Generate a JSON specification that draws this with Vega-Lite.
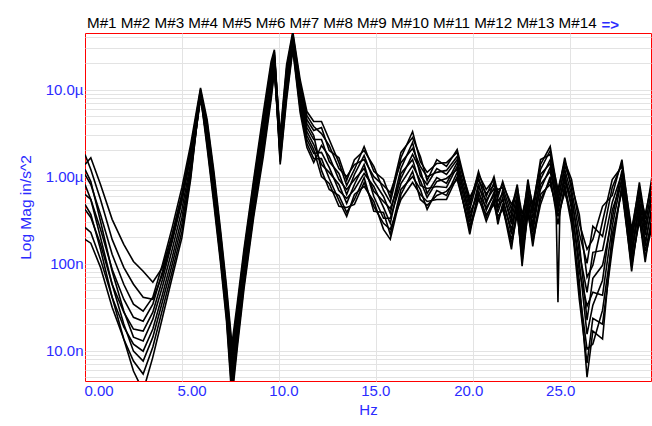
{
"$schema": "https://vega.github.io/schema/vega-lite/v6.json",
"width": 566,
"height": 348,
"autosize": {"type": "none"},
"padding": {"left": 85, "top": 33, "right": 1, "bottom": 45},
"background": "white",
"view": {"stroke": "#ff0000", "strokeWidth": 1},
"config": {
  "view": {"stroke": "#ff0000", "strokeWidth": 1},
  "font": "Liberation Sans"
},
"title": {"text": "M#1 M#2 M#3 M#4 M#5 M#6 M#7 M#8 M#9 M#10 M#11 M#12 M#13 M#14", "anchor": "start", "frame": "group", "font": "Liberation Sans", "fontSize": 15.2, "fontWeight": "normal", "color": "#000000", "offset": 3, "dx": 2, "dy": 17},
"layer": [
{
"data": {"values": [
{"c":1,"f":0,"v":1.38e-6},{"c":1,"f":0.3,"v":1.65e-6},{"c":1,"f":0.8,"v":8.13e-7},{"c":1,"f":1.4,"v":3.23e-7},{"c":1,"f":2,"v":1.67e-7},{"c":1,"f":2.5,"v":1.06e-7},{"c":1,"f":3,"v":8.17e-8},{"c":1,"f":3.5,"v":6.11e-8},{"c":1,"f":4,"v":9.07e-8},{"c":1,"f":4.5,"v":2.17e-7},{"c":1,"f":5,"v":6.24e-7},{"c":1,"f":5.45,"v":2.05e-6},{"c":1,"f":5.96,"v":1.0e-5},{"c":1,"f":6.3,"v":3.57e-6},{"c":1,"f":6.65,"v":8.57e-7},{"c":1,"f":7,"v":1.76e-7},{"c":1,"f":7.3,"v":4.0e-8},{"c":1,"f":7.58,"v":7.39e-9},{"c":1,"f":7.85,"v":2.3e-8},{"c":1,"f":8.2,"v":1.04e-7},{"c":1,"f":8.7,"v":6.58e-7},{"c":1,"f":9.2,"v":3.67e-6},{"c":1,"f":9.6,"v":1.49e-5},{"c":1,"f":9.77,"v":2.39e-5},{"c":1,"f":10.07,"v":3.05e-6},{"c":1,"f":10.4,"v":1.94e-5},{"c":1,"f":10.72,"v":4.65e-5},{"c":1,"f":11.1,"v":1.3e-5},{"c":1,"f":11.45,"v":5.6e-6},{"c":1,"f":11.8,"v":4.3e-6},{"c":1,"f":12.2,"v":4.3e-6},{"c":1,"f":12.6,"v":2.67e-6},{"c":1,"f":13.1,"v":1.45e-6},{"c":1,"f":13.5,"v":7.92e-7},{"c":1,"f":13.9,"v":1.21e-6},{"c":1,"f":14.4,"v":2.22e-6},{"c":1,"f":14.9,"v":1.15e-6},{"c":1,"f":15.4,"v":9.28e-7},{"c":1,"f":15.75,"v":5.77e-7},{"c":1,"f":16.3,"v":1.9e-6},{"c":1,"f":16.9,"v":2.81e-6},{"c":1,"f":17.3,"v":1.71e-6},{"c":1,"f":17.65,"v":9.04e-7},{"c":1,"f":18.15,"v":1.57e-6},{"c":1,"f":18.65,"v":1.31e-6},{"c":1,"f":19.2,"v":2.05e-6},{"c":1,"f":19.85,"v":5.19e-7},{"c":1,"f":20.3,"v":1.06e-6},{"c":1,"f":20.7,"v":7.13e-7},{"c":1,"f":21.1,"v":9.28e-7},{"c":1,"f":21.3,"v":5.77e-7},{"c":1,"f":21.55,"v":8.81e-7},{"c":1,"f":22,"v":4.2e-7},{"c":1,"f":22.3,"v":8.13e-7},{"c":1,"f":22.55,"v":2.69e-7},{"c":1,"f":22.85,"v":9.28e-7},{"c":1,"f":23.1,"v":4.2e-7},{"c":1,"f":23.5,"v":1.57e-6},{"c":1,"f":24,"v":1.8e-6},{"c":1,"f":24.4,"v":7.13e-7},{"c":1,"f":24.75,"v":1.49e-6},{"c":1,"f":25.1,"v":9.28e-7},{"c":1,"f":25.5,"v":2.91e-7},{"c":1,"f":25.9,"v":1.46e-7},{"c":1,"f":26.2,"v":1.9e-7},{"c":1,"f":26.7,"v":4.56e-7},{"c":1,"f":27.2,"v":6.08e-7},{"c":1,"f":27.7,"v":1.57e-6},{"c":1,"f":28.2,"v":2.17e-7},{"c":1,"f":28.6,"v":8.57e-7},{"c":1,"f":28.9,"v":3.23e-7},{"c":1,"f":29.25,"v":1.0e-6},
{"c":2,"f":0,"v":1.8e-6},{"c":2,"f":0.3,"v":1.21e-6},{"c":2,"f":0.8,"v":5.47e-7},{"c":2,"f":1.4,"v":1.9e-7},{"c":2,"f":2,"v":9.07e-8},{"c":2,"f":2.5,"v":5.8e-8},{"c":2,"f":3,"v":4.11e-8},{"c":2,"f":3.5,"v":3.9e-8},{"c":2,"f":4,"v":7.55e-8},{"c":2,"f":4.5,"v":1.9e-7},{"c":2,"f":5,"v":5.47e-7},{"c":2,"f":5.45,"v":1.8e-6},{"c":2,"f":5.96,"v":9.49e-6},{"c":2,"f":6.3,"v":4.18e-6},{"c":2,"f":6.65,"v":1.03e-6},{"c":2,"f":7,"v":2.11e-7},{"c":2,"f":7.3,"v":4.95e-8},{"c":2,"f":7.58,"v":1.01e-8},{"c":2,"f":7.85,"v":3.0e-8},{"c":2,"f":8.2,"v":1.31e-7},{"c":2,"f":8.7,"v":8.35e-7},{"c":2,"f":9.2,"v":4.77e-6},{"c":2,"f":9.6,"v":1.89e-5},{"c":2,"f":9.77,"v":2.73e-5},{"c":2,"f":10.07,"v":2.16e-6},{"c":2,"f":10.4,"v":1.27e-5},{"c":2,"f":10.72,"v":3.75e-5},{"c":2,"f":11.1,"v":8.77e-6},{"c":2,"f":11.45,"v":3.67e-6},{"c":2,"f":11.8,"v":2.67e-6},{"c":2,"f":12.2,"v":2.67e-6},{"c":2,"f":12.6,"v":1.49e-6},{"c":2,"f":13.1,"v":1.09e-6},{"c":2,"f":13.5,"v":6.24e-7},{"c":2,"f":13.9,"v":1.06e-6},{"c":2,"f":14.4,"v":1.75e-6},{"c":2,"f":14.9,"v":8.81e-7},{"c":2,"f":15.4,"v":5.92e-7},{"c":2,"f":15.75,"v":3.78e-7},{"c":2,"f":16.3,"v":1.24e-6},{"c":2,"f":16.9,"v":2.47e-6},{"c":2,"f":17.3,"v":1.03e-6},{"c":2,"f":17.65,"v":8.13e-7},{"c":2,"f":18.15,"v":1.24e-6},{"c":2,"f":18.65,"v":1.06e-6},{"c":2,"f":19.2,"v":1.57e-6},{"c":2,"f":19.85,"v":4.2e-7},{"c":2,"f":20.3,"v":9.78e-7},{"c":2,"f":20.7,"v":4.93e-7},{"c":2,"f":21.1,"v":8.57e-7},{"c":2,"f":21.3,"v":5.19e-7},{"c":2,"f":21.55,"v":6.41e-7},{"c":2,"f":22,"v":3.23e-7},{"c":2,"f":22.3,"v":6.24e-7},{"c":2,"f":22.55,"v":2.0e-7},{"c":2,"f":22.85,"v":7.52e-7},{"c":2,"f":23.1,"v":3.32e-7},{"c":2,"f":23.5,"v":9.28e-7},{"c":2,"f":24,"v":1.57e-6},{"c":2,"f":24.4,"v":5.77e-7},{"c":2,"f":24.75,"v":1.21e-6},{"c":2,"f":25.1,"v":6.24e-7},{"c":2,"f":25.5,"v":1.35e-7},{"c":2,"f":25.9,"v":4.69e-8},{"c":2,"f":26.2,"v":1.35e-7},{"c":2,"f":26.7,"v":1.42e-7},{"c":2,"f":27.2,"v":5.06e-7},{"c":2,"f":27.7,"v":1.09e-6},{"c":2,"f":28.2,"v":1.72e-7},{"c":2,"f":28.6,"v":6.77e-7},{"c":2,"f":28.9,"v":2.42e-7},{"c":2,"f":29.25,"v":5.62e-7},
{"c":3,"f":0,"v":1.06e-6},{"c":3,"f":0.3,"v":8.13e-7},{"c":3,"f":0.8,"v":3.68e-7},{"c":3,"f":1.4,"v":1.28e-7},{"c":3,"f":2,"v":5.8e-8},{"c":3,"f":2.5,"v":3.42e-8},{"c":3,"f":3,"v":2.85e-8},{"c":3,"f":3.5,"v":4.11e-8},{"c":3,"f":4,"v":9.83e-8},{"c":3,"f":4.5,"v":2.61e-7},{"c":3,"f":5,"v":7.52e-7},{"c":3,"f":5.45,"v":2.34e-6},{"c":3,"f":5.96,"v":1.05e-5},{"c":3,"f":6.3,"v":4.53e-6},{"c":3,"f":6.65,"v":1.15e-6},{"c":3,"f":7,"v":2.35e-7},{"c":3,"f":7.3,"v":5.5e-8},{"c":3,"f":7.58,"v":1.19e-8},{"c":3,"f":7.85,"v":3.42e-8},{"c":3,"f":8.2,"v":1.46e-7},{"c":3,"f":8.7,"v":9.28e-7},{"c":3,"f":9.2,"v":5.45e-6},{"c":3,"f":9.6,"v":2.1e-5},{"c":3,"f":9.77,"v":2.88e-5},{"c":3,"f":10.07,"v":2.53e-6},{"c":3,"f":10.4,"v":1.57e-5},{"c":3,"f":10.72,"v":4.16e-5},{"c":3,"f":11.1,"v":1.08e-5},{"c":3,"f":11.45,"v":4.53e-6},{"c":3,"f":11.8,"v":3.39e-6},{"c":3,"f":12.2,"v":3.67e-6},{"c":3,"f":12.6,"v":2.0e-6},{"c":3,"f":13.1,"v":1.65e-6},{"c":3,"f":13.5,"v":9.04e-7},{"c":3,"f":13.9,"v":1.57e-6},{"c":3,"f":14.4,"v":2.0e-6},{"c":3,"f":14.9,"v":1.31e-6},{"c":3,"f":15.4,"v":6.94e-7},{"c":3,"f":15.75,"v":5.06e-7},{"c":3,"f":16.3,"v":1.65e-6},{"c":3,"f":16.9,"v":3.3e-6},{"c":3,"f":17.3,"v":1.49e-6},{"c":3,"f":17.65,"v":1.12e-6},{"c":3,"f":18.15,"v":1.42e-6},{"c":3,"f":18.65,"v":1.45e-6},{"c":3,"f":19.2,"v":1.9e-6},{"c":3,"f":19.85,"v":4.68e-7},{"c":3,"f":20.3,"v":1.15e-6},{"c":3,"f":20.7,"v":5.92e-7},{"c":3,"f":21.1,"v":1.0e-6},{"c":3,"f":21.3,"v":6.41e-7},{"c":3,"f":21.55,"v":8.13e-7},{"c":3,"f":22,"v":4.8e-7},{"c":3,"f":22.3,"v":6.77e-7},{"c":3,"f":22.55,"v":3.15e-7},{"c":3,"f":22.85,"v":8.35e-7},{"c":3,"f":23.1,"v":4.8e-7},{"c":3,"f":23.5,"v":1.38e-6},{"c":3,"f":24,"v":2.22e-6},{"c":3,"f":24.4,"v":6.41e-7},{"c":3,"f":24.75,"v":1.65e-6},{"c":3,"f":25.1,"v":7.13e-7},{"c":3,"f":25.5,"v":2.23e-7},{"c":3,"f":25.9,"v":1.01e-7},{"c":3,"f":26.2,"v":2.69e-7},{"c":3,"f":26.7,"v":2.06e-7},{"c":3,"f":27.2,"v":7.52e-7},{"c":3,"f":27.7,"v":1.42e-6},{"c":3,"f":28.2,"v":2.48e-7},{"c":3,"f":28.6,"v":7.72e-7},{"c":3,"f":28.9,"v":2.76e-7},{"c":3,"f":29.25,"v":7.52e-7},
{"c":4,"f":0,"v":6.24e-7},{"c":4,"f":0.3,"v":5.47e-7},{"c":4,"f":0.8,"v":2.48e-7},{"c":4,"f":1.4,"v":8.61e-8},{"c":4,"f":2,"v":3.9e-8},{"c":4,"f":2.5,"v":2.42e-8},{"c":4,"f":3,"v":2.18e-8},{"c":4,"f":3.5,"v":3.42e-8},{"c":4,"f":4,"v":8.17e-8},{"c":4,"f":4.5,"v":2.17e-7},{"c":4,"f":5,"v":6.24e-7},{"c":4,"f":5.45,"v":2.05e-6},{"c":4,"f":5.96,"v":8.77e-6},{"c":4,"f":6.3,"v":2.97e-6},{"c":4,"f":6.65,"v":7.13e-7},{"c":4,"f":7,"v":1.46e-7},{"c":4,"f":7.3,"v":3.33e-8},{"c":4,"f":7.58,"v":5.24e-9},{"c":4,"f":7.85,"v":1.77e-8},{"c":4,"f":8.2,"v":8.17e-8},{"c":4,"f":8.7,"v":5.33e-7},{"c":4,"f":9.2,"v":2.89e-6},{"c":4,"f":9.6,"v":1.2e-5},{"c":4,"f":9.77,"v":2.1e-5},{"c":4,"f":10.07,"v":1.65e-6},{"c":4,"f":10.4,"v":9.49e-6},{"c":4,"f":10.72,"v":3.2e-5},{"c":4,"f":11.1,"v":6.55e-6},{"c":4,"f":11.45,"v":2.67e-6},{"c":4,"f":11.8,"v":1.85e-6},{"c":4,"f":12.2,"v":1.9e-6},{"c":4,"f":12.6,"v":1.28e-6},{"c":4,"f":13.1,"v":6.94e-7},{"c":4,"f":13.5,"v":5.62e-7},{"c":4,"f":13.9,"v":7.13e-7},{"c":4,"f":14.4,"v":1.09e-6},{"c":4,"f":14.9,"v":7.72e-7},{"c":4,"f":15.4,"v":4.43e-7},{"c":4,"f":15.75,"v":2.91e-7},{"c":4,"f":16.3,"v":1.09e-6},{"c":4,"f":16.9,"v":1.57e-6},{"c":4,"f":17.3,"v":7.92e-7},{"c":4,"f":17.65,"v":7.32e-7},{"c":4,"f":18.15,"v":7.72e-7},{"c":4,"f":18.65,"v":7.52e-7},{"c":4,"f":19.2,"v":1.31e-6},{"c":4,"f":19.85,"v":3.78e-7},{"c":4,"f":20.3,"v":6.41e-7},{"c":4,"f":20.7,"v":4.43e-7},{"c":4,"f":21.1,"v":6.08e-7},{"c":4,"f":21.3,"v":4.68e-7},{"c":4,"f":21.55,"v":5.33e-7},{"c":4,"f":22,"v":2.48e-7},{"c":4,"f":22.3,"v":4.8e-7},{"c":4,"f":22.55,"v":1.72e-7},{"c":4,"f":22.85,"v":5.06e-7},{"c":4,"f":23.1,"v":2.91e-7},{"c":4,"f":23.5,"v":7.13e-7},{"c":4,"f":24,"v":1.28e-6},{"c":4,"f":24.4,"v":3.88e-7},{"c":4,"f":24.75,"v":1.09e-6},{"c":4,"f":25.1,"v":4.2e-7},{"c":4,"f":25.5,"v":1.06e-7},{"c":4,"f":25.9,"v":1.55e-8},{"c":4,"f":26.2,"v":3.33e-8},{"c":4,"f":26.7,"v":6.45e-8},{"c":4,"f":27.2,"v":4.09e-7},{"c":4,"f":27.7,"v":9.04e-7},{"c":4,"f":28.2,"v":1.18e-7},{"c":4,"f":28.6,"v":4.8e-7},{"c":4,"f":28.9,"v":1.58e-7},{"c":4,"f":29.25,"v":4.8e-7},
{"c":5,"f":0,"v":4.2e-7},{"c":5,"f":0.3,"v":3.4e-7},{"c":5,"f":0.8,"v":1.67e-7},{"c":5,"f":1.4,"v":5.8e-8},{"c":5,"f":2,"v":2.77e-8},{"c":5,"f":2.5,"v":1.77e-8},{"c":5,"f":3,"v":1.68e-8},{"c":5,"f":3.5,"v":2.77e-8},{"c":5,"f":4,"v":6.62e-8},{"c":5,"f":4.5,"v":1.8e-7},{"c":5,"f":5,"v":5.19e-7},{"c":5,"f":5.45,"v":1.71e-6},{"c":5,"f":5.96,"v":8.32e-6},{"c":5,"f":6.3,"v":3.87e-6},{"c":5,"f":6.65,"v":9.53e-7},{"c":5,"f":7,"v":1.95e-7},{"c":5,"f":7.3,"v":4.45e-8},{"c":5,"f":7.58,"v":8.66e-9},{"c":5,"f":7.85,"v":2.63e-8},{"c":5,"f":8.2,"v":1.15e-7},{"c":5,"f":8.7,"v":7.52e-7},{"c":5,"f":9.2,"v":4.18e-6},{"c":5,"f":9.6,"v":1.7e-5},{"c":5,"f":9.77,"v":2.52e-5},{"c":5,"f":10.07,"v":2.81e-6},{"c":5,"f":10.4,"v":1.75e-5},{"c":5,"f":10.72,"v":4.39e-5},{"c":5,"f":11.1,"v":1.17e-5},{"c":5,"f":11.45,"v":5.04e-6},{"c":5,"f":11.8,"v":3.77e-6},{"c":5,"f":12.2,"v":3.13e-6},{"c":5,"f":12.6,"v":2.28e-6},{"c":5,"f":13.1,"v":1.24e-6},{"c":5,"f":13.5,"v":1.0e-6},{"c":5,"f":13.9,"v":1.38e-6},{"c":5,"f":14.4,"v":1.57e-6},{"c":5,"f":14.9,"v":1.0e-6},{"c":5,"f":15.4,"v":7.92e-7},{"c":5,"f":15.75,"v":6.58e-7},{"c":5,"f":16.3,"v":1.45e-6},{"c":5,"f":16.9,"v":2.11e-6},{"c":5,"f":17.3,"v":1.31e-6},{"c":5,"f":17.65,"v":1.0e-6},{"c":5,"f":18.15,"v":1.12e-6},{"c":5,"f":18.65,"v":1.18e-6},{"c":5,"f":19.2,"v":1.71e-6},{"c":5,"f":19.85,"v":5.77e-7},{"c":5,"f":20.3,"v":9.04e-7},{"c":5,"f":20.7,"v":6.41e-7},{"c":5,"f":21.1,"v":7.92e-7},{"c":5,"f":21.3,"v":7.13e-7},{"c":5,"f":21.55,"v":7.52e-7},{"c":5,"f":22,"v":3.68e-7},{"c":5,"f":22.3,"v":7.52e-7},{"c":5,"f":22.55,"v":3.68e-7},{"c":5,"f":22.85,"v":6.77e-7},{"c":5,"f":23.1,"v":3.78e-7},{"c":5,"f":23.5,"v":1.21e-6},{"c":5,"f":24,"v":2.0e-6},{"c":5,"f":24.4,"v":5.19e-7},{"c":5,"f":24.75,"v":1.34e-6},{"c":5,"f":25.1,"v":8.13e-7},{"c":5,"f":25.5,"v":3.68e-7},{"c":5,"f":25.9,"v":6.98e-8},{"c":5,"f":26.2,"v":9.57e-8},{"c":5,"f":26.7,"v":3.07e-7},{"c":5,"f":27.2,"v":9.28e-7},{"c":5,"f":27.7,"v":1.31e-6},{"c":5,"f":28.2,"v":1.95e-7},{"c":5,"f":28.6,"v":6.08e-7},{"c":5,"f":28.9,"v":3.68e-7},{"c":5,"f":29.25,"v":8.57e-7},
{"c":6,"f":0,"v":1.21e-6},{"c":6,"f":0.3,"v":8.81e-7},{"c":6,"f":0.8,"v":3.07e-7},{"c":6,"f":1.4,"v":8.17e-8},{"c":6,"f":2,"v":2.85e-8},{"c":6,"f":2.5,"v":1.43e-8},{"c":6,"f":3,"v":1.29e-8},{"c":6,"f":3.5,"v":2.3e-8},{"c":6,"f":4,"v":5.5e-8},{"c":6,"f":4.5,"v":1.46e-7},{"c":6,"f":5,"v":4.2e-7},{"c":6,"f":5.45,"v":1.45e-6},{"c":6,"f":5.96,"v":8.09e-6},{"c":6,"f":6.3,"v":2.53e-6},{"c":6,"f":6.65,"v":5.77e-7},{"c":6,"f":7,"v":1.18e-7},{"c":6,"f":7.3,"v":2.7e-8},{"c":6,"f":7.58,"v":3.82e-9},{"c":6,"f":7.85,"v":1.36e-8},{"c":6,"f":8.2,"v":6.45e-8},{"c":6,"f":8.7,"v":4.2e-7},{"c":6,"f":9.2,"v":2.22e-6},{"c":6,"f":9.6,"v":9.49e-6},{"c":6,"f":9.77,"v":1.84e-5},{"c":6,"f":10.07,"v":1.95e-6},{"c":6,"f":10.4,"v":1.17e-5},{"c":6,"f":10.72,"v":3.56e-5},{"c":6,"f":11.1,"v":8.09e-6},{"c":6,"f":11.45,"v":3.3e-6},{"c":6,"f":11.8,"v":2.34e-6},{"c":6,"f":12.2,"v":1.38e-6},{"c":6,"f":12.6,"v":1.12e-6},{"c":6,"f":13.1,"v":8.13e-7},{"c":6,"f":13.5,"v":4.93e-7},{"c":6,"f":13.9,"v":8.13e-7},{"c":6,"f":14.4,"v":1.38e-6},{"c":6,"f":14.9,"v":5.92e-7},{"c":6,"f":15.4,"v":3.32e-7},{"c":6,"f":15.75,"v":3.32e-7},{"c":6,"f":16.3,"v":8.35e-7},{"c":6,"f":16.9,"v":1.34e-6},{"c":6,"f":17.3,"v":9.04e-7},{"c":6,"f":17.65,"v":5.77e-7},{"c":6,"f":18.15,"v":8.81e-7},{"c":6,"f":18.65,"v":9.53e-7},{"c":6,"f":19.2,"v":1.21e-6},{"c":6,"f":19.85,"v":2.98e-7},{"c":6,"f":20.3,"v":8.35e-7},{"c":6,"f":20.7,"v":4.09e-7},{"c":6,"f":21.1,"v":6.58e-7},{"c":6,"f":21.3,"v":3.88e-7},{"c":6,"f":21.55,"v":5.77e-7},{"c":6,"f":22,"v":2.17e-7},{"c":6,"f":22.3,"v":5.77e-7},{"c":6,"f":22.55,"v":1.46e-7},{"c":6,"f":22.85,"v":5.62e-7},{"c":6,"f":23.1,"v":2.29e-7},{"c":6,"f":23.5,"v":8.13e-7},{"c":6,"f":24,"v":1.15e-6},{"c":6,"f":24.4,"v":4.31e-7},{"c":6,"f":24.75,"v":9.04e-7},{"c":6,"f":25.1,"v":4.8e-7},{"c":6,"f":25.5,"v":8.17e-8},{"c":6,"f":25.9,"v":3.25e-8},{"c":6,"f":26.2,"v":4.69e-8},{"c":6,"f":26.7,"v":4.33e-8},{"c":6,"f":27.2,"v":2.69e-7},{"c":6,"f":27.7,"v":9.78e-7},{"c":6,"f":28.2,"v":1.5e-7},{"c":6,"f":28.6,"v":4.31e-7},{"c":6,"f":28.9,"v":1.8e-7},{"c":6,"f":29.25,"v":4.2e-7},
{"c":7,"f":0,"v":2.61e-7},{"c":7,"f":0.3,"v":2.29e-7},{"c":7,"f":0.8,"v":1.12e-7},{"c":7,"f":1.4,"v":4.11e-8},{"c":7,"f":2,"v":1.87e-8},{"c":7,"f":2.5,"v":1.19e-8},{"c":7,"f":3,"v":9.87e-9},{"c":7,"f":3.5,"v":1.77e-8},{"c":7,"f":4,"v":4.45e-8},{"c":7,"f":4.5,"v":1.18e-7},{"c":7,"f":5,"v":3.4e-7},{"c":7,"f":5.45,"v":1.28e-6},{"c":7,"f":5.96,"v":7.68e-6},{"c":7,"f":6.3,"v":3.3e-6},{"c":7,"f":6.65,"v":7.72e-7},{"c":7,"f":7,"v":1.58e-7},{"c":7,"f":7.3,"v":3.6e-8},{"c":7,"f":7.58,"v":6.31e-9},{"c":7,"f":7.85,"v":2.02e-8},{"c":7,"f":8.2,"v":9.07e-8},{"c":7,"f":8.7,"v":5.92e-7},{"c":7,"f":9.2,"v":3.21e-6},{"c":7,"f":9.6,"v":1.34e-5},{"c":7,"f":9.77,"v":2.21e-5},{"c":7,"f":10.07,"v":1.38e-6},{"c":7,"f":10.4,"v":7.68e-6},{"c":7,"f":10.72,"v":2.88e-5},{"c":7,"f":11.1,"v":5.45e-6},{"c":7,"f":11.45,"v":2.16e-6},{"c":7,"f":11.8,"v":1.45e-6},{"c":7,"f":12.2,"v":2.28e-6},{"c":7,"f":12.6,"v":1.71e-6},{"c":7,"f":13.1,"v":9.28e-7},{"c":7,"f":13.5,"v":7.13e-7},{"c":7,"f":13.9,"v":9.28e-7},{"c":7,"f":14.4,"v":1.24e-6},{"c":7,"f":14.9,"v":6.77e-7},{"c":7,"f":15.4,"v":5.19e-7},{"c":7,"f":15.75,"v":4.31e-7},{"c":7,"f":16.3,"v":9.53e-7},{"c":7,"f":16.9,"v":1.8e-6},{"c":7,"f":17.3,"v":1.18e-6},{"c":7,"f":17.65,"v":6.41e-7},{"c":7,"f":18.15,"v":9.78e-7},{"c":7,"f":18.65,"v":8.35e-7},{"c":7,"f":19.2,"v":1.45e-6},{"c":7,"f":19.85,"v":3.32e-7},{"c":7,"f":20.3,"v":7.52e-7},{"c":7,"f":20.7,"v":5.33e-7},{"c":7,"f":21.1,"v":7.32e-7},{"c":7,"f":21.3,"v":4.31e-7},{"c":7,"f":21.55,"v":6.94e-7},{"c":7,"f":22,"v":2.83e-7},{"c":7,"f":22.3,"v":5.19e-7},{"c":7,"f":22.55,"v":2.35e-7},{"c":7,"f":22.85,"v":6.08e-7},{"c":7,"f":23.1,"v":2.61e-7},{"c":7,"f":23.5,"v":1.06e-6},{"c":7,"f":24,"v":1.42e-6},{"c":7,"f":24.4,"v":4.68e-7},{"c":7,"f":24.75,"v":1.0e-6},{"c":7,"f":25.1,"v":5.47e-7},{"c":7,"f":25.5,"v":1.76e-7},{"c":7,"f":25.9,"v":2.24e-8},{"c":7,"f":26.2,"v":6.8e-8},{"c":7,"f":26.7,"v":9.57e-8},{"c":7,"f":27.2,"v":3.32e-7},{"c":7,"f":27.7,"v":1.18e-6},{"c":7,"f":28.2,"v":1.35e-7},{"c":7,"f":28.6,"v":5.47e-7},{"c":7,"f":28.9,"v":2.11e-7},{"c":7,"f":29.25,"v":6.41e-7},
{"c":8,"f":0,"v":8.13e-7},{"c":8,"f":0.3,"v":5.47e-7},{"c":8,"f":0.8,"v":2.0e-7},{"c":8,"f":1.4,"v":5.8e-8},{"c":8,"f":2,"v":2.02e-8},{"c":8,"f":2.5,"v":9.87e-9},{"c":8,"f":3,"v":7.59e-9},{"c":8,"f":3.5,"v":1.43e-8},{"c":8,"f":4,"v":3.7e-8},{"c":8,"f":4.5,"v":9.83e-8},{"c":8,"f":5,"v":2.83e-7},{"c":8,"f":5.45,"v":1.12e-6},{"c":8,"f":5.96,"v":8.54e-6},{"c":8,"f":6.3,"v":2.16e-6},{"c":8,"f":6.65,"v":4.8e-7},{"c":8,"f":7,"v":9.83e-8},{"c":8,"f":7.3,"v":2.18e-8},{"c":8,"f":7.58,"v":2.78e-9},{"c":8,"f":7.85,"v":1.04e-8},{"c":8,"f":8.2,"v":5.08e-8},{"c":8,"f":8.7,"v":3.4e-7},{"c":8,"f":9.2,"v":1.71e-6},{"c":8,"f":9.6,"v":7.68e-6},{"c":8,"f":9.77,"v":1.61e-5},{"c":8,"f":10.07,"v":2.34e-6},{"c":8,"f":10.4,"v":1.41e-5},{"c":8,"f":10.72,"v":3.95e-5},{"c":8,"f":11.1,"v":9.74e-6},{"c":8,"f":11.45,"v":4.08e-6},{"c":8,"f":11.8,"v":2.97e-6},{"c":8,"f":12.2,"v":1.18e-6},{"c":8,"f":12.6,"v":7.13e-7},{"c":8,"f":13.1,"v":6.08e-7},{"c":8,"f":13.5,"v":3.88e-7},{"c":8,"f":13.9,"v":5.47e-7},{"c":8,"f":14.4,"v":9.78e-7},{"c":8,"f":14.9,"v":3.99e-7},{"c":8,"f":15.4,"v":3.88e-7},{"c":8,"f":15.75,"v":2.17e-7},{"c":8,"f":16.3,"v":7.13e-7},{"c":8,"f":16.9,"v":1.0e-6},{"c":8,"f":17.3,"v":7.13e-7},{"c":8,"f":17.65,"v":4.2e-7},{"c":8,"f":18.15,"v":6.94e-7},{"c":8,"f":18.65,"v":6.08e-7},{"c":8,"f":19.2,"v":1.12e-6},{"c":8,"f":19.85,"v":2.17e-7},{"c":8,"f":20.3,"v":6.94e-7},{"c":8,"f":20.7,"v":3.4e-7},{"c":8,"f":21.1,"v":5.62e-7},{"c":8,"f":21.3,"v":2.83e-7},{"c":8,"f":21.55,"v":4.93e-7},{"c":8,"f":22,"v":1.67e-7},{"c":8,"f":22.3,"v":3.68e-7},{"c":8,"f":22.55,"v":1.25e-7},{"c":8,"f":22.85,"v":3.68e-7},{"c":8,"f":23.1,"v":2.0e-7},{"c":8,"f":23.5,"v":5.47e-7},{"c":8,"f":24,"v":9.04e-7},{"c":8,"f":24.4,"v":3.49e-7},{"c":8,"f":24.75,"v":6.58e-7},{"c":8,"f":25.1,"v":3.68e-7},{"c":8,"f":25.5,"v":4.95e-8},{"c":8,"f":25.9,"v":1.04e-8},{"c":8,"f":26.2,"v":1.19e-8},{"c":8,"f":26.7,"v":2.92e-8},{"c":8,"f":27.2,"v":1.8e-7},{"c":8,"f":27.7,"v":7.52e-7},{"c":8,"f":28.2,"v":1.04e-7},{"c":8,"f":28.6,"v":3.07e-7},{"c":8,"f":28.9,"v":1.39e-7},{"c":8,"f":29.25,"v":3.15e-7},
{"c":9,"f":0,"v":1.9e-7},{"c":9,"f":0.3,"v":1.72e-7},{"c":9,"f":0.8,"v":9.07e-8},{"c":9,"f":1.4,"v":3.16e-8},{"c":9,"f":2,"v":1.36e-8},{"c":9,"f":2.5,"v":7.59e-9},{"c":9,"f":3,"v":5.38e-9},{"c":9,"f":3.5,"v":1.1e-8},{"c":9,"f":4,"v":3.0e-8},{"c":9,"f":4.5,"v":8.17e-8},{"c":9,"f":5,"v":2.35e-7},{"c":9,"f":5.45,"v":1.0e-6},{"c":9,"f":5.96,"v":9.0e-6},{"c":9,"f":6.3,"v":2.74e-6},{"c":9,"f":6.65,"v":6.41e-7},{"c":9,"f":7,"v":1.31e-7},{"c":9,"f":7.3,"v":3.0e-8},{"c":9,"f":7.58,"v":4.48e-9},{"c":9,"f":7.85,"v":1.55e-8},{"c":9,"f":8.2,"v":7.16e-8},{"c":9,"f":8.7,"v":4.8e-7},{"c":9,"f":9.2,"v":2.53e-6},{"c":9,"f":9.6,"v":1.08e-5},{"c":9,"f":9.77,"v":1.94e-5},{"c":9,"f":10.07,"v":1.49e-6},{"c":9,"f":10.4,"v":8.54e-6},{"c":9,"f":10.72,"v":3.04e-5},{"c":9,"f":11.1,"v":6.06e-6},{"c":9,"f":11.45,"v":2.4e-6},{"c":9,"f":11.8,"v":1.61e-6},{"c":9,"f":12.2,"v":1.61e-6},{"c":9,"f":12.6,"v":9.53e-7},{"c":9,"f":13.1,"v":5.33e-7},{"c":9,"f":13.5,"v":3.49e-7},{"c":9,"f":13.9,"v":6.24e-7},{"c":9,"f":14.4,"v":7.72e-7},{"c":9,"f":14.9,"v":5.19e-7},{"c":9,"f":15.4,"v":2.48e-7},{"c":9,"f":15.75,"v":1.9e-7},{"c":9,"f":16.3,"v":6.24e-7},{"c":9,"f":16.9,"v":1.15e-6},{"c":9,"f":17.3,"v":5.47e-7},{"c":9,"f":17.65,"v":4.68e-7},{"c":9,"f":18.15,"v":6.08e-7},{"c":9,"f":18.65,"v":6.77e-7},{"c":9,"f":19.2,"v":9.28e-7},{"c":9,"f":19.85,"v":2.69e-7},{"c":9,"f":20.3,"v":5.92e-7},{"c":9,"f":20.7,"v":3.07e-7},{"c":9,"f":21.1,"v":5.19e-7},{"c":9,"f":21.3,"v":3.49e-7},{"c":9,"f":21.55,"v":4.2e-7},{"c":9,"f":22,"v":1.9e-7},{"c":9,"f":22.3,"v":3.99e-7},{"c":9,"f":22.55,"v":1.09e-7},{"c":9,"f":22.85,"v":4.56e-7},{"c":9,"f":23.1,"v":1.8e-7},{"c":9,"f":23.5,"v":4.8e-7},{"c":9,"f":24,"v":1.0e-6},{"c":9,"f":24.4,"v":2.83e-7},{"c":9,"f":24.75,"v":8.13e-7},{"c":9,"f":25.1,"v":3.23e-7},{"c":9,"f":25.5,"v":3.9e-8},{"c":9,"f":25.9,"v":7.2e-9},{"c":9,"f":26.2,"v":2.36e-8},{"c":9,"f":26.7,"v":2.02e-8},{"c":9,"f":27.2,"v":1.46e-7},{"c":9,"f":27.7,"v":8.13e-7},{"c":9,"f":28.2,"v":8.17e-8},{"c":9,"f":28.6,"v":3.88e-7},{"c":9,"f":28.9,"v":1.18e-7},{"c":9,"f":29.25,"v":2.69e-7},
{"c":10,"f":0,"v":4.8e-7},{"c":10,"f":0.3,"v":3.68e-7},{"c":10,"f":0.8,"v":1.46e-7},{"c":10,"f":1.4,"v":4.11e-8},{"c":10,"f":2,"v":1.36e-8},{"c":10,"f":2.5,"v":5.83e-9},{"c":10,"f":3,"v":3.44e-9},{"c":10,"f":3.5,"v":8.43e-9},{"c":10,"f":4,"v":2.42e-8},{"c":10,"f":4.5,"v":6.98e-8},{"c":10,"f":5,"v":2.0e-7},{"c":10,"f":5.45,"v":9.28e-7},{"c":10,"f":5.96,"v":9.49e-6},{"c":10,"f":6.3,"v":2.34e-6},{"c":10,"f":6.65,"v":5.33e-7},{"c":10,"f":7,"v":1.09e-7},{"c":10,"f":7.3,"v":2.42e-8},{"c":10,"f":7.58,"v":3.26e-9},{"c":10,"f":7.85,"v":1.19e-8},{"c":10,"f":8.2,"v":5.65e-8},{"c":10,"f":8.7,"v":3.78e-7},{"c":10,"f":9.2,"v":1.95e-6},{"c":10,"f":9.6,"v":8.54e-6},{"c":10,"f":9.77,"v":1.7e-5},{"c":10,"f":10.07,"v":1.8e-6},{"c":10,"f":10.4,"v":1.05e-5},{"c":10,"f":10.72,"v":3.38e-5},{"c":10,"f":11.1,"v":7.29e-6},{"c":10,"f":11.45,"v":2.97e-6},{"c":10,"f":11.8,"v":2.05e-6},{"c":10,"f":12.2,"v":1.0e-6},{"c":10,"f":12.6,"v":8.35e-7},{"c":10,"f":13.1,"v":4.56e-7},{"c":10,"f":13.5,"v":4.43e-7},{"c":10,"f":13.9,"v":4.8e-7},{"c":10,"f":14.4,"v":8.57e-7},{"c":10,"f":14.9,"v":4.56e-7},{"c":10,"f":15.4,"v":2.91e-7},{"c":10,"f":15.75,"v":2.48e-7},{"c":10,"f":16.3,"v":5.47e-7},{"c":10,"f":16.9,"v":8.57e-7},{"c":10,"f":17.3,"v":6.24e-7},{"c":10,"f":17.65,"v":5.19e-7},{"c":10,"f":18.15,"v":5.47e-7},{"c":10,"f":18.65,"v":5.47e-7},{"c":10,"f":19.2,"v":1.0e-6},{"c":10,"f":19.85,"v":2.42e-7},{"c":10,"f":20.3,"v":5.47e-7},{"c":10,"f":20.7,"v":3.68e-7},{"c":10,"f":21.1,"v":4.8e-7},{"c":10,"f":21.3,"v":3.15e-7},{"c":10,"f":21.55,"v":4.56e-7},{"c":10,"f":22,"v":1.46e-7},{"c":10,"f":22.3,"v":4.43e-7},{"c":10,"f":22.55,"v":9.33e-8},{"c":10,"f":22.85,"v":4.09e-7},{"c":10,"f":23.1,"v":1.58e-7},{"c":10,"f":23.5,"v":6.24e-7},{"c":10,"f":24,"v":8.13e-7},{"c":10,"f":24.3,"v":4.8e-7},{"c":10,"f":24.4,"v":3.6e-8},{"c":10,"f":24.5,"v":4.2e-7},{"c":10,"f":24.75,"v":7.32e-7},{"c":10,"f":25.1,"v":2.83e-7},{"c":10,"f":25.5,"v":6.45e-8},{"c":10,"f":25.9,"v":4.97e-9},{"c":10,"f":26.2,"v":1.68e-8},{"c":10,"f":26.7,"v":1.36e-8},{"c":10,"f":27.2,"v":2.17e-7},{"c":10,"f":27.7,"v":6.77e-7},{"c":10,"f":28.2,"v":9.33e-8},{"c":10,"f":28.6,"v":3.4e-7},{"c":10,"f":28.9,"v":1.04e-7},{"c":10,"f":29.25,"v":3.58e-7}
]},
"mark": {"type": "line", "color": "#000000", "strokeWidth": 1.6, "clip": true},
"encoding": {
  "x": {"field": "f", "type": "quantitative", "scale": {"domain": [0, 29.2], "nice": false, "zero": false},
    "axis": {"values": [0, 5, 10, 15, 20, 25],
      "labelExpr": "datum.value == 0 ? '0.00' : datum.value == 5 ? '5.00' : format(datum.value, '.1f')",
      "title": "Hz", "grid": true, "gridColor": "#e3e3e3",
      "gridOpacity": {"condition": {"test": "datum.value == 0", "value": 0}, "value": 1},
      "ticks": false, "domain": false, "labelColor": "#2b2bff", "labelFont": "Liberation Sans", "labelFontSize": 15,
      "labelAlign": "left", "labelPadding": 2, "labelFlush": false, "labelOverlap": false,
      "labelOffset": {"condition": [{"test": "datum.value == 5", "value": -5}, {"test": "datum.value == 10", "value": -10}, {"test": "datum.value == 15", "value": -15}, {"test": "datum.value == 20", "value": -19}, {"test": "datum.value == 25", "value": -24}], "value": -1},
      "titleColor": "#2b2bff", "titleFont": "Liberation Sans", "titleFontSize": 15, "titleFontWeight": "normal", "titlePadding": 4}},
  "y": {"field": "v", "type": "quantitative", "scale": {"type": "log", "domain": [4.48e-9, 4.48e-5], "nice": false},
    "axis": {"values": [5e-9,6e-9,7e-9,8e-9,9e-9,1e-8,2e-8,3e-8,4e-8,5e-8,6e-8,7e-8,8e-8,9e-8,1e-7,2e-7,3e-7,4e-7,5e-7,6e-7,7e-7,8e-7,9e-7,1e-6,2e-6,3e-6,4e-6,5e-6,6e-6,7e-6,8e-6,9e-6,1e-5,2e-5,3e-5,4e-5],
      "labelExpr": "datum.value == 1e-5 ? '10.0µ' : datum.value == 1e-6 ? '1.00µ' : datum.value == 1e-7 ? '100n' : datum.value == 1e-8 ? '10.0n' : ''",
      "title": "Log Mag in/s^2", "grid": true, "gridColor": "#e3e3e3", "ticks": false, "domain": false,
      "labelColor": "#2b2bff", "labelFont": "Liberation Sans", "labelFontSize": 15, "labelPadding": 2, "labelOverlap": false, "labelBaseline": "middle",
      "titleColor": "#2b2bff", "titleFont": "Liberation Sans", "titleFontSize": 15.5, "titleFontWeight": "normal", "titlePadding": 12}},
  "detail": {"field": "c", "type": "nominal"}
}
},
{
"data": {"values": [{"f": 0}]},
"mark": {"type": "rule", "opacity": 0},
"encoding": {
  "x": {"field": "f", "type": "quantitative", "scale": {"domain": [0, 29.2], "nice": false, "zero": false},
    "axis": {"orient": "top", "title": "=>", "labels": false, "ticks": false, "domain": false, "grid": false,
      "titleColor": "#2b2bff", "titleFont": "Liberation Sans", "titleFontSize": 15, "titleFontWeight": "bold",
      "titleAlign": "left", "titleBaseline": "middle", "titleX": 516, "titleY": -9}}
}
}
],
"resolve": {"axis": {"x": "independent"}}
}
